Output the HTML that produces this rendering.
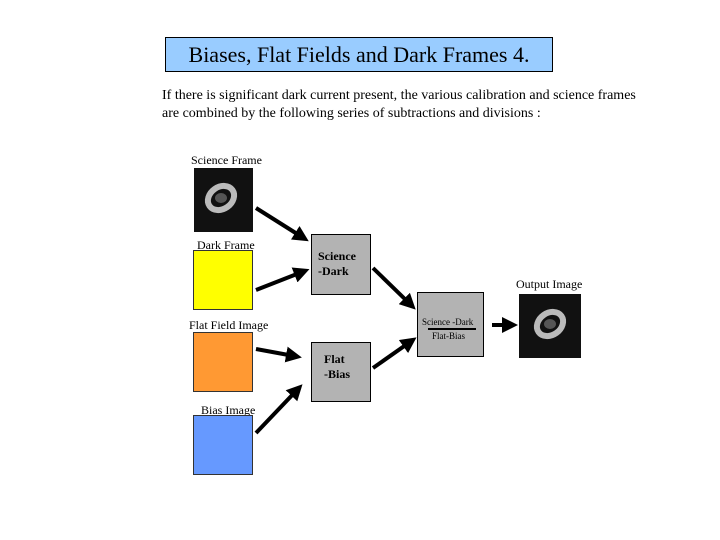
<!DOCTYPE html>
<html><head><style>
body{margin:0;width:720px;height:540px;background:#fff;position:relative;overflow:hidden;font-family:"Liberation Serif",serif;color:#000}
.a{position:absolute;white-space:nowrap}
.box{position:absolute;background:#b3b3b3;border:1px solid #000;box-sizing:border-box}
.sq{position:absolute;border:1px solid #333;box-sizing:border-box}
.neb{position:absolute;background:#111;}
</style></head><body>
<div class="a" style="left:165px;top:37px;width:388px;height:35px;background:#99ccff;border:1px solid #000;box-sizing:border-box;font-size:22px;line-height:33px;text-align:center">Biases, Flat Fields and Dark Frames 4.</div>
<div class="a" style="left:162px;top:87px;font-size:14px;line-height:18px">If there is significant dark current present, the various calibration and science frames<br>are combined by the following series of subtractions and divisions :</div>

<div class="a" style="left:191px;top:153px;font-size:12px">Science Frame</div>
<div class="neb" style="left:194px;top:168px;width:59px;height:64px"><svg width="59" height="64"><ellipse cx="27" cy="30" rx="14" ry="11" fill="none" stroke="#bbb" stroke-width="6" transform="rotate(-35 27 30)"/><ellipse cx="27" cy="30" rx="6" ry="5" fill="#555"/></svg></div>
<div class="a" style="left:197px;top:238px;font-size:12px">Dark Frame</div>
<div class="sq" style="left:193px;top:250px;width:60px;height:60px;background:#ffff00"></div>
<div class="a" style="left:189px;top:318px;font-size:12px">Flat Field Image</div>
<div class="sq" style="left:193px;top:332px;width:60px;height:60px;background:#ff9933"></div>
<div class="a" style="left:201px;top:403px;font-size:12px">Bias Image</div>
<div class="sq" style="left:193px;top:415px;width:60px;height:60px;background:#6699ff"></div>

<div class="box" style="left:311px;top:234px;width:60px;height:61px"><div class="a" style="left:6px;top:14px;font-size:12px;font-weight:bold;line-height:15px">Science<br>-Dark</div></div>
<div class="box" style="left:311px;top:342px;width:60px;height:60px"><div class="a" style="left:12px;top:9px;font-size:12px;font-weight:bold;line-height:15px">Flat<br>-Bias</div></div>
<div class="box" style="left:417px;top:292px;width:67px;height:65px"><div class="a" style="left:4px;top:24px;font-size:9px">Science -Dark</div><div class="a" style="left:10px;top:35px;width:48px;height:2px;background:#000"></div><div class="a" style="left:14px;top:38px;font-size:9px">Flat-Bias</div></div>

<div class="a" style="left:516px;top:277px;font-size:12px">Output Image</div>
<div class="neb" style="left:519px;top:294px;width:62px;height:64px"><svg width="62" height="64"><ellipse cx="31" cy="30" rx="14" ry="11" fill="none" stroke="#bbb" stroke-width="6" transform="rotate(-35 31 30)"/><ellipse cx="31" cy="30" rx="6" ry="5" fill="#555"/></svg></div>

<svg class="a" style="left:0;top:0" width="720" height="540">
<defs><marker id="m" markerWidth="4" markerHeight="4" refX="2" refY="2" orient="auto"><path d="M0,0L4,2L0,4z" fill="#000"/></marker></defs>
<g stroke="#000" stroke-width="4" marker-end="url(#m)">
<line x1="256" y1="208" x2="302" y2="237"/>
<line x1="256" y1="290" x2="302" y2="272"/>
<line x1="373" y1="268" x2="410" y2="304"/>
<line x1="373" y1="368" x2="410" y2="342"/>
<line x1="256" y1="349" x2="294" y2="356"/>
<line x1="256" y1="433" x2="297" y2="390"/>
<line x1="492" y1="325" x2="510" y2="325"/>
</g></svg>
</body></html>
